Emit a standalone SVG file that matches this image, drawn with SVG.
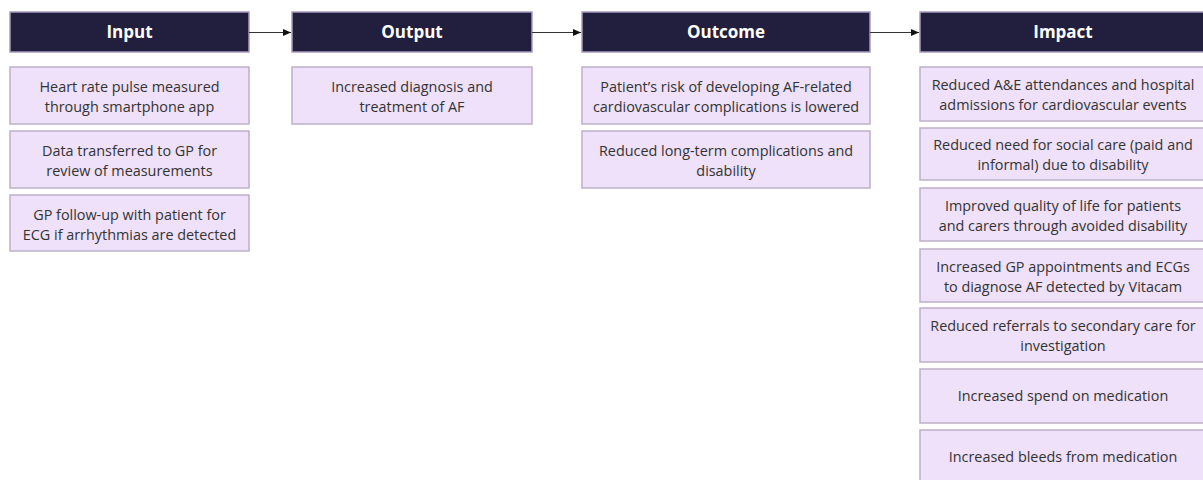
<svg xmlns="http://www.w3.org/2000/svg" width="1203" height="480" viewBox="0 0 1203 480">
  <defs>
    <style>
      .hdr { fill: #221f3e; stroke: #a99bbf; stroke-width: 1.5; }
      .hdr-t { font-family: "Open Sans", "Liberation Sans", sans-serif; font-weight: bold; font-size: 17px; fill: #ffffff; text-anchor: middle; }
      .box { fill: #eee1f9; stroke: #bdb0c7; stroke-width: 1.5; }
      .box-t { font-family: "Open Sans", "Liberation Sans", sans-serif; font-size: 14.4px; fill: #333333; text-anchor: middle; }
      .conn { stroke: #333333; stroke-width: 1; fill: none; }
    </style>
    <marker id="arrow" viewBox="0 0 8 8" refX="8" refY="4" markerWidth="8" markerHeight="8" markerUnits="userSpaceOnUse" orient="auto">
      <path d="M0,0.5 L8,4 L0,7.5 z" fill="#111111"/>
    </marker>
  </defs>

  <rect width="1203" height="480" fill="#ffffff"/>

  <!-- stage headers -->
  <g id="input">
    <rect class="hdr" x="10" y="12" width="239" height="40"/>
    <text class="hdr-t" x="129.5" y="38">Input</text>
  </g>
  <g id="output">
    <rect class="hdr" x="292" y="12" width="240" height="40"/>
    <text class="hdr-t" x="412" y="38">Output</text>
  </g>
  <g id="outcome">
    <rect class="hdr" x="582" y="12" width="288" height="40"/>
    <text class="hdr-t" x="726" y="38">Outcome</text>
  </g>
  <g id="impact">
    <rect class="hdr" x="920" y="12" width="286" height="40"/>
    <text class="hdr-t" x="1063" y="38">Impact</text>
  </g>

  <!-- connectors between stages -->
  <g id="connectors">
    <line class="conn" x1="249" y1="32.5" x2="291" y2="32.5" marker-end="url(#arrow)"/>
    <line class="conn" x1="532" y1="32.5" x2="581" y2="32.5" marker-end="url(#arrow)"/>
    <line class="conn" x1="870" y1="32.5" x2="919" y2="32.5" marker-end="url(#arrow)"/>
  </g>

  <!-- Input items -->
  <g id="input-1">
    <rect class="box" x="10" y="67" width="239" height="57"/>
    <text class="box-t" x="129.5" y="92">Heart rate pulse measured</text>
    <text class="box-t" x="129.5" y="112">through smartphone app</text>
  </g>
  <g id="input-2">
    <rect class="box" x="10" y="131" width="239" height="57"/>
    <text class="box-t" x="129.5" y="156">Data transferred to GP for</text>
    <text class="box-t" x="129.5" y="176">review of measurements</text>
  </g>
  <g id="input-3">
    <rect class="box" x="10" y="195" width="239" height="56"/>
    <text class="box-t" x="129.5" y="220">GP follow-up with patient for</text>
    <text class="box-t" x="129.5" y="240">ECG if arrhythmias are detected</text>
  </g>

  <!-- Output items -->
  <g id="output-1">
    <rect class="box" x="292" y="67" width="240" height="57"/>
    <text class="box-t" x="412" y="92">Increased diagnosis and</text>
    <text class="box-t" x="412" y="112">treatment of AF</text>
  </g>

  <!-- Outcome items -->
  <g id="outcome-1">
    <rect class="box" x="582" y="67" width="288" height="57"/>
    <text class="box-t" x="726" y="92">Patient’s risk of developing AF-related</text>
    <text class="box-t" x="726" y="112">cardiovascular complications is lowered</text>
  </g>
  <g id="outcome-2">
    <rect class="box" x="582" y="131" width="288" height="57"/>
    <text class="box-t" x="726" y="156">Reduced long-term complications and</text>
    <text class="box-t" x="726" y="176">disability</text>
  </g>

  <!-- Impact items -->
  <g id="impact-1">
    <rect class="box" x="920" y="67" width="286" height="54"/>
    <text class="box-t" x="1063" y="90">Reduced A&amp;E attendances and hospital</text>
    <text class="box-t" x="1063" y="110">admissions for cardiovascular events</text>
  </g>
  <g id="impact-2">
    <rect class="box" x="920" y="128" width="286" height="52"/>
    <text class="box-t" x="1063" y="150">Reduced need for social care (paid and</text>
    <text class="box-t" x="1063" y="170">informal) due to disability</text>
  </g>
  <g id="impact-3">
    <rect class="box" x="920" y="188" width="286" height="53"/>
    <text class="box-t" x="1063" y="211">Improved quality of life for patients</text>
    <text class="box-t" x="1063" y="231">and carers through avoided disability</text>
  </g>
  <g id="impact-4">
    <rect class="box" x="920" y="249" width="286" height="53"/>
    <text class="box-t" x="1063" y="272">Increased GP appointments and ECGs</text>
    <text class="box-t" x="1063" y="292">to diagnose AF detected by Vitacam</text>
  </g>
  <g id="impact-5">
    <rect class="box" x="920" y="308" width="286" height="54"/>
    <text class="box-t" x="1063" y="331">Reduced referrals to secondary care for</text>
    <text class="box-t" x="1063" y="351">investigation</text>
  </g>
  <g id="impact-6">
    <rect class="box" x="920" y="369" width="286" height="54"/>
    <text class="box-t" x="1063" y="401">Increased spend on medication</text>
  </g>
  <g id="impact-7">
    <rect class="box" x="920" y="430" width="286" height="54"/>
    <text class="box-t" x="1063" y="462">Increased bleeds from medication</text>
  </g>
</svg>
